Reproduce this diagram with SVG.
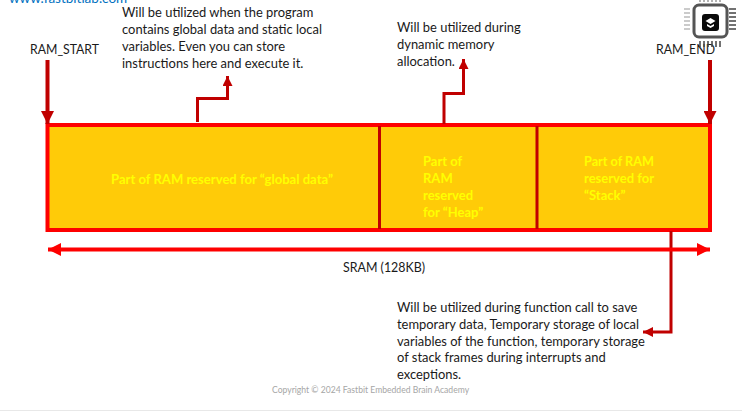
<svg xmlns="http://www.w3.org/2000/svg" width="742" height="411" viewBox="0 0 742 411">
<style>
text{font-family:"Lato","Open Sans","Liberation Sans",sans-serif;font-size:12.93px;fill:#1a1a1a}
.y{fill:#ffff00;font-weight:700;font-size:13px}
.seg{fill:#ffcb08;stroke:#fe0000;stroke-width:4}
.div{stroke:#c00000;stroke-width:3;fill:none}
.dark{stroke:#c00000;fill:none}
.red{stroke:#fe0000;fill:none}
</style>
<defs>
<marker id="big" markerUnits="userSpaceOnUse" markerWidth="14" markerHeight="13" refX="13" refY="6.5" orient="auto"><path d="M0 0L13 6.5L0 13z" fill="#c00000"/></marker>
<marker id="small" markerUnits="userSpaceOnUse" markerWidth="11" markerHeight="11" refX="10" refY="5" orient="auto"><path d="M0 0L10 5L0 10z" fill="#c00000"/></marker>
<marker id="redh" markerUnits="userSpaceOnUse" markerWidth="14" markerHeight="14" refX="13" refY="6.5" orient="auto-start-reverse"><path d="M0 0L13 6.5L0 13z" fill="#fe0000"/></marker>
</defs>
<rect width="742" height="411" fill="#fff"/>
<rect x="0" y="410" width="742" height="1" fill="#e8e8e8"/>
<text x="9" y="3" style="fill:#0070c0;font-size:13.5px">www.fastbitlab.com</text>
<g id="ram-block">
<rect class="seg" x="47.500" y="125" width="662.500" height="105"/>
<path class="div" d="M379.500 126V229M537 126V229"/>
<text class="y" x="111" y="184" textLength="222" lengthAdjust="spacingAndGlyphs">Part of RAM reserved for “global data”</text>
<text class="y" x="423" y="166">Part of</text><text class="y" x="423" y="183">RAM</text><text class="y" x="423" y="200">reserved</text><text class="y" x="423" y="217">for “Heap”</text>
<text class="y" x="584" y="166" textLength="70" lengthAdjust="spacingAndGlyphs">Part of RAM</text><text class="y" x="584" y="183">reserved for</text><text class="y" x="584" y="200">“Stack”</text>
</g>
<g id="connectors">
<path class="dark" stroke-width="4" marker-end="url(#big)" d="M47.500 60V124"/>
<path class="dark" stroke-width="4" marker-end="url(#big)" d="M710 60V124"/>
<path class="dark" stroke-width="3" marker-end="url(#small)" d="M197.500 122V98.500H227.500V76"/>
<path class="dark" stroke-width="3" marker-end="url(#small)" d="M444 124V93.500H463.500V59"/>
<path class="dark" stroke-width="3" marker-end="url(#small)" d="M671 231V332H643"/>
<path class="red" stroke-width="4" marker-start="url(#redh)" marker-end="url(#redh)" d="M48 249.500H710"/>
</g>
<g id="labels">
<text x="30" y="54" textLength="69" lengthAdjust="spacingAndGlyphs">RAM_START</text>
<text x="656" y="54" textLength="59" lengthAdjust="spacingAndGlyphs">RAM_END</text>
<text x="343" y="272" textLength="82" lengthAdjust="spacingAndGlyphs">SRAM (128KB)</text>
<text x="122" y="17">Will be utilized when the program</text>
<text x="122" y="34">contains global data and static local</text>
<text x="122" y="51">variables. Even you can store</text>
<text x="122" y="68">instructions here and execute it.</text>
<text x="397" y="32">Will be utilized during</text>
<text x="397" y="49">dynamic memory</text>
<text x="397" y="66">allocation.</text>
<text x="397" y="312">Will be utilized during function call to save</text>
<text x="397" y="329">temporary data, Temporary storage of local</text>
<text x="397" y="346">variables of the function, temporary storage</text>
<text x="397" y="362">of stack frames during interrupts and</text>
<text x="397" y="379">exceptions.</text>
<text x="272" y="393" style="fill:#a6a6a6;font-size:8.600px">Copyright © 2024 Fastbit Embedded Brain Academy</text>
</g>
<g id="chip-icon">
<path d="M684 9H690M684 13H690M684 17H690M684 21H690M684 25H690M684 29H690" stroke="#bbb" stroke-width="1.500"/>
<path d="M729 9H736M729 13H736M729 17H736M729 21H736M729 25H736M729 29H736" stroke="#444" stroke-width="1.500"/>
<path d="M700 0V2M704 0V2M708 0V2M712 0V2M716 0V2M720 0V2" stroke="#999" stroke-width="1.500"/>
<path d="M700 41V47M704 41V47M708 41V47M712 41V47M716 41V47M720 41V47" stroke="#444" stroke-width="1.500"/>
<rect x="694" y="5" width="33" height="32" rx="5" fill="#fff" stroke="#555" stroke-width="3"/>
<rect x="702" y="14" width="17" height="17" rx="3" fill="#0a0a0a"/>
<path d="M710.500 18L715.500 21L710.500 24L705.500 21z" fill="#fff"/>
<path d="M707 24L710.500 26L714 24V26L710.500 28L707 26z" fill="#fff"/>
</g>
</svg>
